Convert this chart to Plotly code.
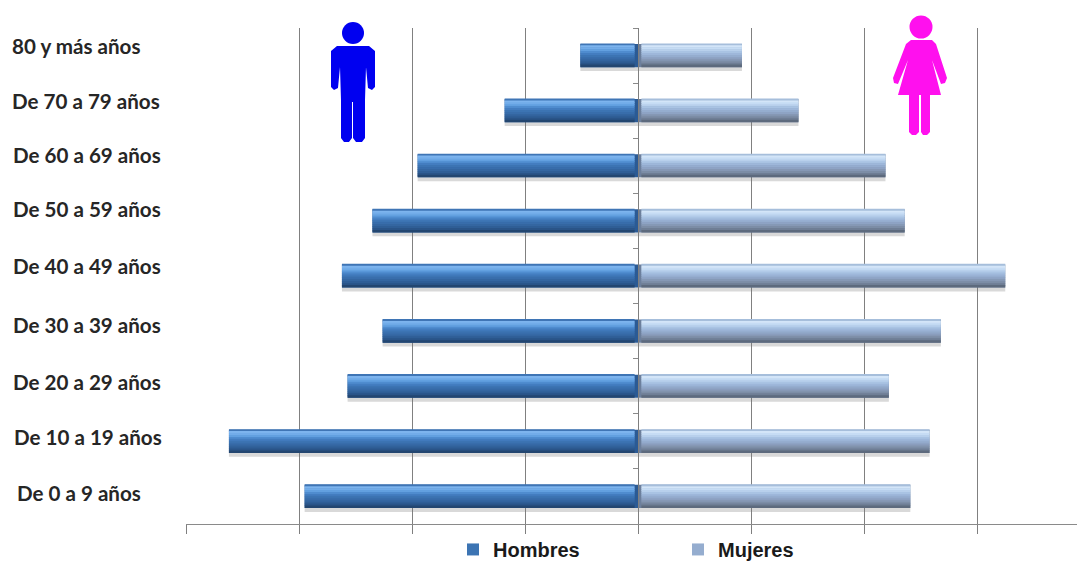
import plotly.graph_objects as go

categories = ["De 0 a 9 años", "De 10 a 19 años", "De 20 a 29 años", "De 30 a 39 años", "De 40 a 49 años",
              "De 50 a 59 años", "De 60 a 69 años", "De 70 a 79 años", "80 y más años"]
hombres = [-2.95, -3.62, -2.57, -2.26, -2.62, -2.35, -1.95, -1.18, -0.51]
mujeres = [2.41, 2.58, 2.22, 2.68, 3.25, 2.36, 2.19, 1.42, 0.92]
grid_ticks = [-4, -3, -2, -1, 0, 1, 2, 3]
W, H = 1077, 563
L, R, T, B = 186, 0, 28, 39
# label placement (left px, centre px), same order as categories
label_x = [15, 12, 11, 11, 11, 11, 11, 10, 10]
label_y = [493, 437, 382, 325, 266, 209, 155, 101, 46]

blue_strips = ["#3f75b5", "#7db4ee", "#72ace9", "#62a0e0", "#4f8ccf", "#437dc0", "#3c74b3", "#386dab", "#3466a1", "#2f5e96", "#2a5488", "#234670"]
gray_strips = ["#a6bedb", "#d3e5f8", "#c6dcf4", "#b8d0ec", "#a9c3e3", "#9eb7da", "#95adcf", "#8ea3c4", "#8698b5", "#7c8da6", "#6f7e95", "#5d6a7d"]
blue_edge, gray_edge = "#2b5a94", "#6c7f9c"
thick = 0.42
inset = 0.03
fig = go.Figure()
def add(vals, strips, edge, name):
    sign = 1 if vals[0] > 0 else -1
    fig.add_trace(go.Bar(y=categories, x=vals, orientation="h", offset=-thick/2 - 0.07, width=0.07,
                         marker=dict(color="rgba(120,120,120,0.28)", line_width=0), showlegend=False, hoverinfo="skip"))
    fig.add_trace(go.Bar(y=categories, x=vals, orientation="h", offset=-thick/2, width=thick,
                         marker=dict(color=edge, line_width=0), showlegend=False, hoverinfo="skip"))
    n = len(strips)
    inner = [v - sign * inset for v in vals]
    for i, c in enumerate(strips):
        w = thick / n
        fig.add_trace(go.Bar(y=categories, x=inner, orientation="h", offset=thick/2 - (i + 1) * w, width=w * 1.3,
                             base=sign * inset, marker=dict(color=c, line_width=0), name=name, showlegend=(i == 6),
                             hovertemplate="%{y}<extra>" + name + "</extra>"))
add(hombres, blue_strips, blue_edge, "Hombres")
add(mujeres, gray_strips, gray_edge, "Mujeres")

def px(x, y):
    return (x - L) / (W - L - R), 1 - (y - T) / (H - T - B)
def path(points):
    out = []
    for i, (x, y) in enumerate(points):
        a, b = px(x, y)
        out.append(("M" if i == 0 else "L") + f"{a:.5f},{b:.5f}")
    return " ".join(out) + " Z"
man = [(337,46),(369,46),(375,51),(375,87),(372,90),(368,88),(366,67),(365,100),(365,138),(362,142),(356,142),(353,138),(353,102),(352,102),(352,138),(349,142),(344,142),(341,138),(341,100),(340,67),(338,88),(334,90),(331,87),(331,51)]
woman = [(911,40),(932,40),(936,44),(947,78),(945,83),(941,84),(932,60),(941,95),(930,95),(930,132),(927,135),(923,135),(921,132),(921,95),(919,95),(919,132),(916,135),(912,135),(909,132),(909,95),(898,95),(908,60),(898,84),(894,83),(893,78),(906,44)]
shapes = [
    dict(type="path", path=path(man), xref="paper", yref="paper", fillcolor="#0000f0", line_width=0, layer="above"),
    dict(type="path", path=path(woman), xref="paper", yref="paper", fillcolor="#ff10ee", line_width=0, layer="above"),
]
for (cx, cy, r, c) in [(353, 33, 11, "#0000f0"), (921, 27, 11.5, "#ff10ee")]:
    x0, y0 = px(cx - r, cy + r)
    x1, y1 = px(cx + r, cy - r)
    shapes.append(dict(type="circle", xref="paper", yref="paper", x0=x0, y0=y0, x1=x1, y1=y1, fillcolor=c, line_width=0, layer="above"))

annotations = []
for c, lx, ly in zip(categories, label_x, label_y):
    a, b = px(lx, ly)
    annotations.append(dict(text=f"<b>{c}</b>", xref="paper", yref="paper", x=a, y=b, xanchor="left", yanchor="middle",
                            showarrow=False, align="left", font=dict(family="Lato", size=20.6, color="#262626")))

zero_pos = (0 - (-4)) / (3.885 + 4)
fig.update_layout(
    width=W, height=H, margin=dict(l=L, r=R, t=T, b=B, autoexpand=False), paper_bgcolor="white", plot_bgcolor="white",
    barmode="overlay", bargap=0.58, shapes=shapes, annotations=annotations,
    xaxis=dict(range=[-4, 3.885], tickvals=grid_ticks, showticklabels=False, showgrid=True, gridcolor="#808080", gridwidth=1.3,
               zeroline=False, showline=True, linecolor="#8a8a8a", linewidth=1.3, ticks="outside", ticklen=9, tickcolor="#7f7f7f"),
    yaxis=dict(categoryorder="array", categoryarray=categories, range=[-0.5, 8.5], showticklabels=False, showgrid=False, zeroline=False,
               showline=True, linecolor="#7f7f7f", anchor="free", position=zero_pos, tickson="boundaries", ticks="outside", ticklen=5, tickcolor="#8a8a8a"),
    legend=dict(orientation="h", x=(453 - L) / (W - L), y=-0.012, xanchor="left", yanchor="top", entrywidth=180, entrywidthmode="pixels",
                traceorder="normal", font=dict(family="Liberation Sans", size=20, color="#1a1a1a", weight="bold"), bgcolor="rgba(0,0,0,0)", itemclick=False, itemdoubleclick=False),
)
fig.write_html("out.html", config={"displayModeBar": False}, post_script="document.body.style.margin='0';")
